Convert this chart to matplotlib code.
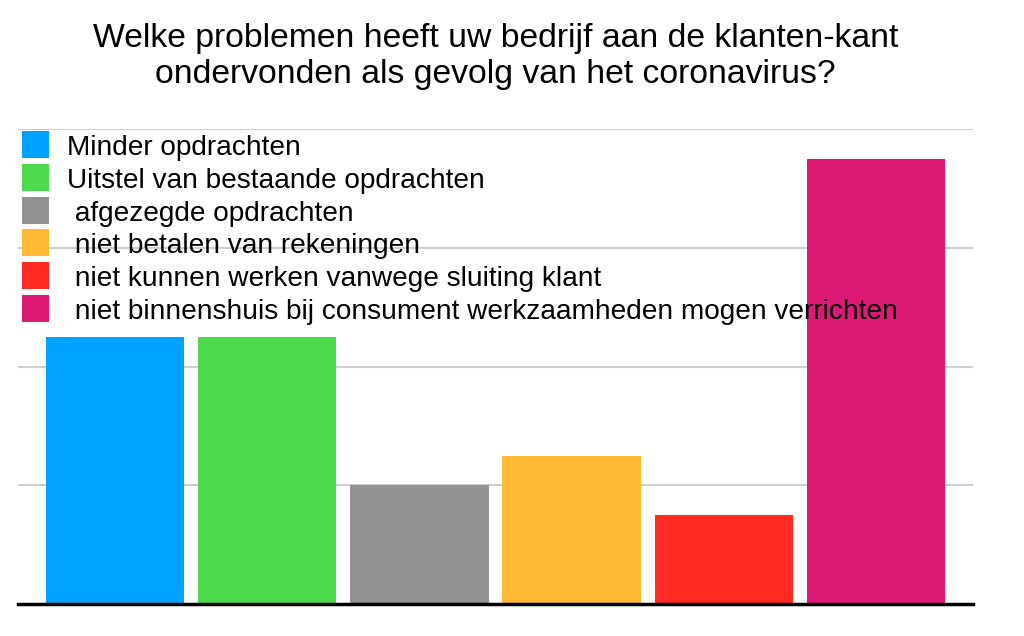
import matplotlib
matplotlib.use("Agg")
from matplotlib import pyplot as plt
from matplotlib.patches import Rectangle

plt.rcParams["font.family"] = ["Liberation Sans", "DejaVu Sans"]

title = "Welke problemen heeft uw bedrijf aan de klanten-kant\nondervonden als gevolg van het coronavirus?"
categories = [
    "Minder opdrachten",
    "Uitstel van bestaande opdrachten",
    " afgezegde opdrachten",
    " niet betalen van rekeningen",
    " niet kunnen werken vanwege sluiting klant",
    " niet binnenshuis bij consument werkzaamheden mogen verrichten",
]
values = [9, 9, 4, 5, 3, 15]
colors = ["#00a2ff", "#4bda4b", "#929292", "#ffb933", "#ff2a22", "#dd1a75"]
gridTicks = [0, 4, 8, 12, 16]

W, H = 1024, 636
fig = plt.figure(figsize=(W / 100, H / 100), dpi=100)
# axes box in pixels: left 18, right 973, baseline 604, top gridline 129
ax = fig.add_axes([18 / W, 1 - 604 / H, (973 - 18) / W, (604 - 129) / H])

ax.bar(range(len(values)), values, width=0.908, color=colors, zorder=2)
ax.set_xlim(-0.638, len(values) - 1 + 0.638)
ax.set_ylim(0, 16)
ax.set_yticks(gridTicks)
ax.set_xticks([])
ax.tick_params(left=False, labelleft=False)
ax.yaxis.grid(True, color="#cfcfcf", linewidth=1.5, zorder=0)
ax.set_axisbelow(True)
for s in ["top", "right", "left"]:
    ax.spines[s].set_visible(False)
ax.spines["bottom"].set_linewidth(2.5)
ax.spines["bottom"].set_color("black")
ax.spines["bottom"].set_zorder(3)

# title, baselines at about 47 and 83 px
fig.text(495.5 / W, 1 - 47 / H, title.split("\n")[0], ha="center", va="baseline",
         fontsize=24.3)
fig.text(495.5 / W, 1 - 83 / H, title.split("\n")[1], ha="center", va="baseline",
         fontsize=24.3)

# legend, drawn inside the plot area
rowStep = 32.8
for i, (label, c) in enumerate(zip(categories, colors)):
    top = 131 + i * rowStep
    fig.patches.append(Rectangle((22 / W, 1 - (top + 27) / H), 27 / W, 27 / H,
                                 transform=fig.transFigure, facecolor=c,
                                 edgecolor="none", zorder=5))
    fig.text(67 / W, 1 - (top + 24) / H, label, ha="left", va="baseline",
             fontsize=20.2, zorder=6)

fig.savefig("out.png", dpi=100)
